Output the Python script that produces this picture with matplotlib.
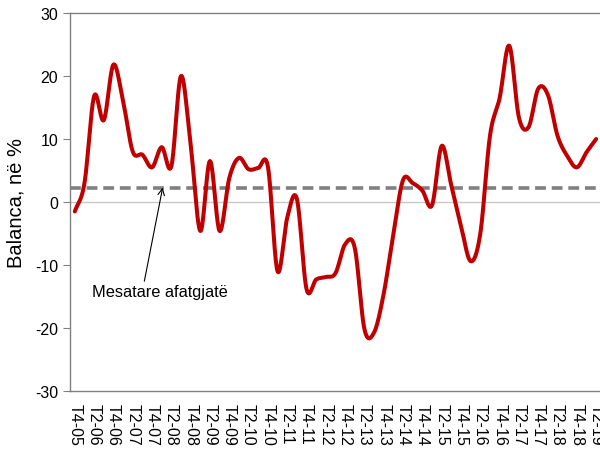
import numpy as np
import matplotlib
matplotlib.use('Agg')
import matplotlib.pyplot as plt

plt.rcParams['font.family'] = ['Liberation Sans', 'DejaVu Sans']
plt.rcParams['axes.unicode_minus'] = False

# quarterly balance, T4-05 .. T2-19
quarters = []
for yy in range(5, 20):
    for qq in (1, 2, 3, 4):
        if (yy == 5 and qq < 4) or (yy == 19 and qq > 2):
            continue
        quarters.append('T%d-%02d' % (qq, yy))

balance = [-1.5, 3.0, 16.8, 13.0, 21.8, 16.0, 8.0, 7.5, 5.5, 8.7,
           5.7, 20.0, 9.0, -4.6, 6.5, -4.6, 3.8, 7.0, 5.2, 5.4,
           5.6, -11.0, -2.5, 0.5, -13.8, -12.3, -11.9, -11.3, -6.7, -7.3,
           -20.2, -20.7, -14.5, -5.0, 3.5, 3.0, 1.8, -0.5, 8.9, 2.6,
           -3.8, -9.4, -5.0, 10.5, 16.5, 24.8, 13.4, 11.9, 18.0, 17.0,
           10.5, 7.3, 5.5, 7.9, 10.0]
long_mean = 2.3

label_idx = list(range(0, len(quarters), 2))
tick_labels = [quarters[i] for i in label_idx]


def smooth(xs, ys, n=20):
    # catmull-rom through the points, like the smoothed line of a spreadsheet
    xs = np.asarray(xs, float)
    ys = np.asarray(ys, float)
    px = np.concatenate([[2 * xs[0] - xs[1]], xs, [2 * xs[-1] - xs[-2]]])
    py = np.concatenate([[2 * ys[0] - ys[1]], ys, [2 * ys[-1] - ys[-2]]])
    ox, oy = [], []
    tt = np.linspace(0, 1, n, endpoint=False)
    for k in range(1, len(px) - 2):
        for arr, out in ((px, ox), (py, oy)):
            p0, p1, p2, p3 = arr[k - 1], arr[k], arr[k + 1], arr[k + 2]
            out.extend(0.5 * (2 * p1 + (-p0 + p2) * tt
                              + (2 * p0 - 5 * p1 + 4 * p2 - p3) * tt ** 2
                              + (-p0 + 3 * p1 - 3 * p2 + p3) * tt ** 3))
    ox.append(xs[-1])
    oy.append(ys[-1])
    return np.array(ox), np.array(oy)


fig = plt.figure(figsize=(6, 4.56), dpi=100, facecolor='w')
ax = fig.add_axes([70 / 600, 1 - 392 / 456, 531 / 600, 378 / 456])

xx = np.arange(len(balance))
sx, sy = smooth(xx, balance)

ax.axhline(0, color='#c8c8c8', lw=1.0, zorder=1)
ax.plot(sx, sy, color='#c00000', lw=2.9, solid_capstyle='round', zorder=3)
ax.axhline(long_mean, color='#808080', lw=2.6, ls=(0, (3.0, 1.6)), zorder=2)

ax.set_xlim(-0.5, len(balance) - 0.5)
ax.set_ylim(-30, 30)
ax.set_yticks(np.arange(-30, 31, 10))
ax.set_xticks(label_idx)
ax.set_xticklabels(tick_labels, rotation=270, fontsize=11.5)
ax.tick_params(axis='y', labelsize=11.5, length=5, color='#808080', direction='out')
ax.tick_params(axis='x', length=0, pad=9)

for side in ('left', 'top', 'bottom'):
    ax.spines[side].set_color('#808080')
    ax.spines[side].set_linewidth(1.0)
ax.spines['right'].set_visible(False)

ax.set_ylabel('Balanca, në %', fontsize=14.5, labelpad=7)

ax.annotate('Mesatare afatgjatë', xy=(9.1, long_mean), xytext=(1.8, -14.2),
            fontsize=11.8, va='center', ha='left',
            arrowprops=dict(arrowstyle='->', color='black', lw=0.8,
                            shrinkA=0, shrinkB=0, relpos=(0.38, 1.0)))

fig.savefig('out.png', dpi=100, facecolor=fig.get_facecolor())
